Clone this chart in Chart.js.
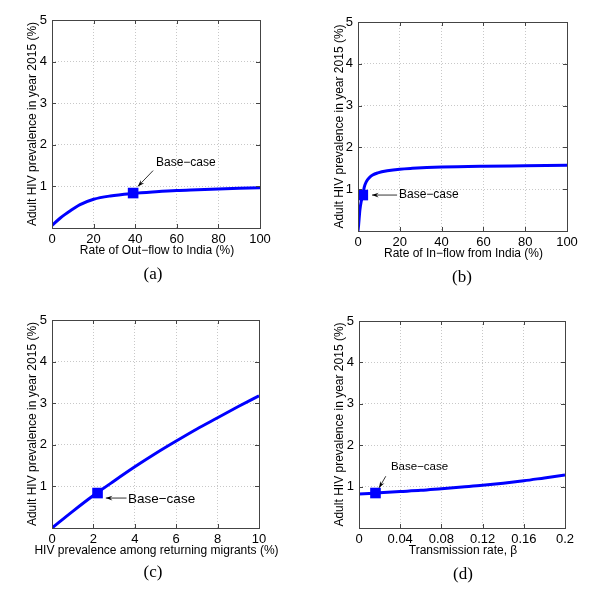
<!DOCTYPE html>
<html>
<head>
<meta charset="utf-8">
<script src="https://cdn.jsdelivr.net/npm/chart.js@4.4.1/dist/chart.umd.min.js"></script>
<style>
  body { margin: 0; background: #fff; width: 600px; height: 610px; position: relative; overflow: hidden; }
  canvas { position: absolute; }
</style>
</head>
<body>
<canvas id="chartA" width="300" height="300" style="left:0;top:0"></canvas>
<canvas id="chartB" width="300" height="300" style="left:300px;top:0"></canvas>
<canvas id="chartC" width="300" height="310" style="left:0;top:300px"></canvas>
<canvas id="chartD" width="300" height="310" style="left:300px;top:300px"></canvas>
<script>
// (a) rate of out-flow to India
var outflowRate = [0, 4, 9, 13.5, 20, 28, 39, 50, 60, 70, 80, 90, 100];
var outflowPrev = [0.06, 0.24, 0.42, 0.56, 0.69, 0.77, 0.83, 0.87, 0.9, 0.92, 0.94, 0.955, 0.97];
var outflowBase = [39, 0.84];

// (b) rate of in-flow from India
var inflowRate = [0, 0.3, 0.9, 1.5, 2.3, 3, 4, 5.5, 7, 9.5, 14, 20, 26, 40, 60, 80, 100];
var inflowPrev = [0, 0.15, 0.5, 0.7, 0.86, 1.05, 1.18, 1.28, 1.34, 1.39, 1.44, 1.48, 1.5, 1.53, 1.55, 1.56, 1.57];
var inflowBase = [2.3, 0.86];

// (c) HIV prevalence among returning migrants
var migrantPrevX = [0, 1, 2, 3, 4, 5, 6, 7, 8, 9, 10];
var migrantPrevY = [0, 0.4, 0.78, 1.13, 1.47, 1.79, 2.09, 2.38, 2.65, 2.92, 3.18];
var migrantBase = [2.2, 0.84];

// (d) transmission rate beta
var betaX = [0, 0.02, 0.04, 0.06, 0.08, 0.1, 0.12, 0.14, 0.16, 0.18, 0.2];
var betaY = [0.82, 0.85, 0.88, 0.91, 0.95, 0.99, 1.03, 1.08, 1.14, 1.21, 1.28];
var betaBase = [0.016, 0.845];

// tick labels
var yTicks = [0, 1, 2, 3, 4, 5];
var rateTicks = [0, 20, 40, 60, 80, 100];
var migrantTicks = [0, 2, 4, 6, 8, 10];
var betaTicks = [0, 0.04, 0.08, 0.12, 0.16, 0.2];

var yTitle = 'Adult HIV prevalence in year 2015 (%)';
var sans = '"Liberation Sans", Arial, sans-serif';
var serif = '"Liberation Serif", "Times New Roman", serif';

function pts(xs, ys) {
    return xs.map(function (x, i) { return { x: x, y: ys[i] }; });
}

// box around the plot with small inward ticks, like matlab
var framePlugin = {
    id: 'frame',
    afterDraw: function (chart) {
        var a = chart.chartArea, ctx = chart.ctx;
        var xs = chart.scales.x, ys = chart.scales.y;
        ctx.save();
        ctx.strokeStyle = '#444';
        ctx.lineWidth = 1;
        ctx.strokeRect(Math.round(a.left) + 0.5, Math.round(a.top) + 0.5,
            Math.round(a.right - a.left), Math.round(a.bottom - a.top));
        ctx.beginPath();
        xs.ticks.forEach(function (t) {
            var px = Math.round(xs.getPixelForValue(t.value)) + 0.5;
            ctx.moveTo(px, a.bottom); ctx.lineTo(px, a.bottom - 4);
            ctx.moveTo(px, a.top); ctx.lineTo(px, a.top + 4);
        });
        ys.ticks.forEach(function (t) {
            var py = Math.round(ys.getPixelForValue(t.value)) + 0.5;
            ctx.moveTo(a.left, py); ctx.lineTo(a.left + 4, py);
            ctx.moveTo(a.right, py); ctx.lineTo(a.right - 4, py);
        });
        ctx.stroke();
        ctx.restore();
    }
};

// x title, "Base-case" label with arrow (data units) and panel caption
var basePlugin = {
    id: 'baseCase',
    afterDraw: function (chart, args, o) {
        if (!o || !o.text) return;
        var ctx = chart.ctx, xs = chart.scales.x, ys = chart.scales.y;
        var a = chart.chartArea;
        var tx = xs.getPixelForValue(o.at[0]), ty = ys.getPixelForValue(o.at[1]);
        var x0 = xs.getPixelForValue(o.from[0]), y0 = ys.getPixelForValue(o.from[1]);
        var x1 = xs.getPixelForValue(o.to[0]), y1 = ys.getPixelForValue(o.to[1]);
        ctx.save();
        ctx.fillStyle = '#000';
        ctx.strokeStyle = '#000';
        ctx.font = o.size + 'px ' + sans;
        ctx.textAlign = 'left';
        ctx.textBaseline = 'middle';
        ctx.fillText(o.text, tx, ty);
        ctx.lineWidth = 0.8;
        ctx.beginPath();
        ctx.moveTo(x0, y0); ctx.lineTo(x1, y1);
        ctx.stroke();
        var ang = Math.atan2(y1 - y0, x1 - x0), h = 7;
        ctx.beginPath();
        ctx.moveTo(x1, y1);
        ctx.lineTo(x1 - h * Math.cos(ang - 0.35), y1 - h * Math.sin(ang - 0.35));
        ctx.lineTo(x1 - h * 0.6 * Math.cos(ang), y1 - h * 0.6 * Math.sin(ang));
        ctx.lineTo(x1 - h * Math.cos(ang + 0.35), y1 - h * Math.sin(ang + 0.35));
        ctx.closePath();
        ctx.fill();
        // x axis title (wider than the plot in (c), so not the scale title)
        ctx.font = '12px ' + sans;
        ctx.textAlign = 'center';
        ctx.fillText(o.xTitle, (a.left + a.right) / 2 + 1, a.bottom + 23);
        // caption under the panel
        ctx.font = '17px ' + serif;
        ctx.fillText(o.caption, o.capX, a.bottom + o.capDy);
        ctx.restore();
    }
};

function makeChart(id, cfg) {
    var W = cfg.W, H = cfg.H, xAxisH = 33;
    return new Chart(document.getElementById(id).getContext('2d'), {
        type: 'scatter',
        data: {
            datasets: [
                {
                    data: pts(cfg.xs, cfg.ys),
                    showLine: true,
                    borderColor: '#0000ff',
                    borderWidth: 3,
                    pointRadius: 0,
                    cubicInterpolationMode: 'monotone'
                },
                {
                    data: [{ x: cfg.base[0], y: cfg.base[1] }],
                    pointStyle: 'rect',
                    pointRadius: 7.5,
                    backgroundColor: '#0000ff',
                    borderWidth: 0
                }
            ]
        },
        options: {
            responsive: false,
            animation: false,
            layout: {
                padding: { left: 0, top: cfg.T, right: W - cfg.R, bottom: H - cfg.B - xAxisH }
            },
            scales: {
                x: {
                    type: 'linear',
                    min: cfg.xTicks[0],
                    max: cfg.xTicks[cfg.xTicks.length - 1],
                    afterBuildTicks: function (s) { s.ticks = cfg.xTicks.map(function (v) { return { value: v }; }); },
                    afterFit: function (s) { s.height = xAxisH; },
                    grid: { color: '#c8c8c8', drawTicks: false },
                    border: { display: false, dash: [1, 2] },
                    ticks: {
                        color: '#000', padding: 4, maxRotation: 0, font: { family: sans, size: 13 },
                        callback: function (v) { return String(v); }
                    }
                },
                y: {
                    type: 'linear',
                    min: 0,
                    max: 5,
                    afterBuildTicks: function (s) { s.ticks = yTicks.map(function (v) { return { value: v }; }); },
                    afterFit: function (s) { s.width = cfg.L; },
                    grid: { color: '#c8c8c8', drawTicks: false },
                    border: { display: false, dash: [1, 2] },
                    ticks: {
                        color: '#000', padding: 5, font: { family: sans, size: 13 },
                        callback: function (v) { return v === 0 ? '' : v; }
                    },
                    title: { display: true, text: yTitle, color: '#000', padding: { top: cfg.yTitleX - 7.2, bottom: 0 }, font: { family: sans, size: 12 } }
                }
            },
            plugins: {
                legend: { display: false },
                tooltip: { enabled: false },
                baseCase: cfg.note
            }
        },
        plugins: [framePlugin, basePlugin]
    });
}

makeChart('chartA', {
    W: 300, H: 300, L: 52, R: 260, T: 20, B: 228, yTitleX: 33,
    xs: outflowRate, ys: outflowPrev, base: outflowBase, xTicks: rateTicks,
    note: {
        text: 'Base\u2212case', size: 12, at: [50, 1.56], from: [48.6, 1.38], to: [41.3, 1.0],
        xTitle: 'Rate of Out\u2212flow to India (%)', caption: '(a)', capX: 153, capDy: 47
    }
});
makeChart('chartB', {
    W: 300, H: 300, L: 58, R: 267, T: 22, B: 231, yTitleX: 40,
    xs: inflowRate, ys: inflowPrev, base: inflowBase, xTicks: rateTicks,
    note: {
        text: 'Base\u2212case', size: 12, at: [19.6, 0.86], from: [18.7, 0.86], to: [6.7, 0.86],
        xTitle: 'Rate of In\u2212flow from India (%)', caption: '(b)', capX: 162, capDy: 47
    }
});
makeChart('chartC', {
    W: 300, H: 310, L: 52, R: 259, T: 20, B: 228, yTitleX: 33,
    xs: migrantPrevX, ys: migrantPrevY, base: migrantBase, xTicks: migrantTicks,
    note: {
        text: 'Base\u2212case', size: 13.5, at: [3.67, 0.7], from: [3.6, 0.72], to: [2.6, 0.72],
        xTitle: 'HIV prevalence among returning migrants (%)', caption: '(c)', capX: 153, capDy: 45
    }
});
makeChart('chartD', {
    W: 300, H: 310, L: 59, R: 265, T: 21, B: 228, yTitleX: 40,
    xs: betaX, ys: betaY, base: betaBase, xTicks: betaTicks,
    note: {
        text: 'Base\u2212case', size: 11.5, at: [0.031, 1.47], from: [0.026, 1.25], to: [0.0195, 0.97],
        xTitle: 'Transmission rate, \u03b2', caption: '(d)', capX: 163, capDy: 47
    }
});
</script>
</body>
</html>
